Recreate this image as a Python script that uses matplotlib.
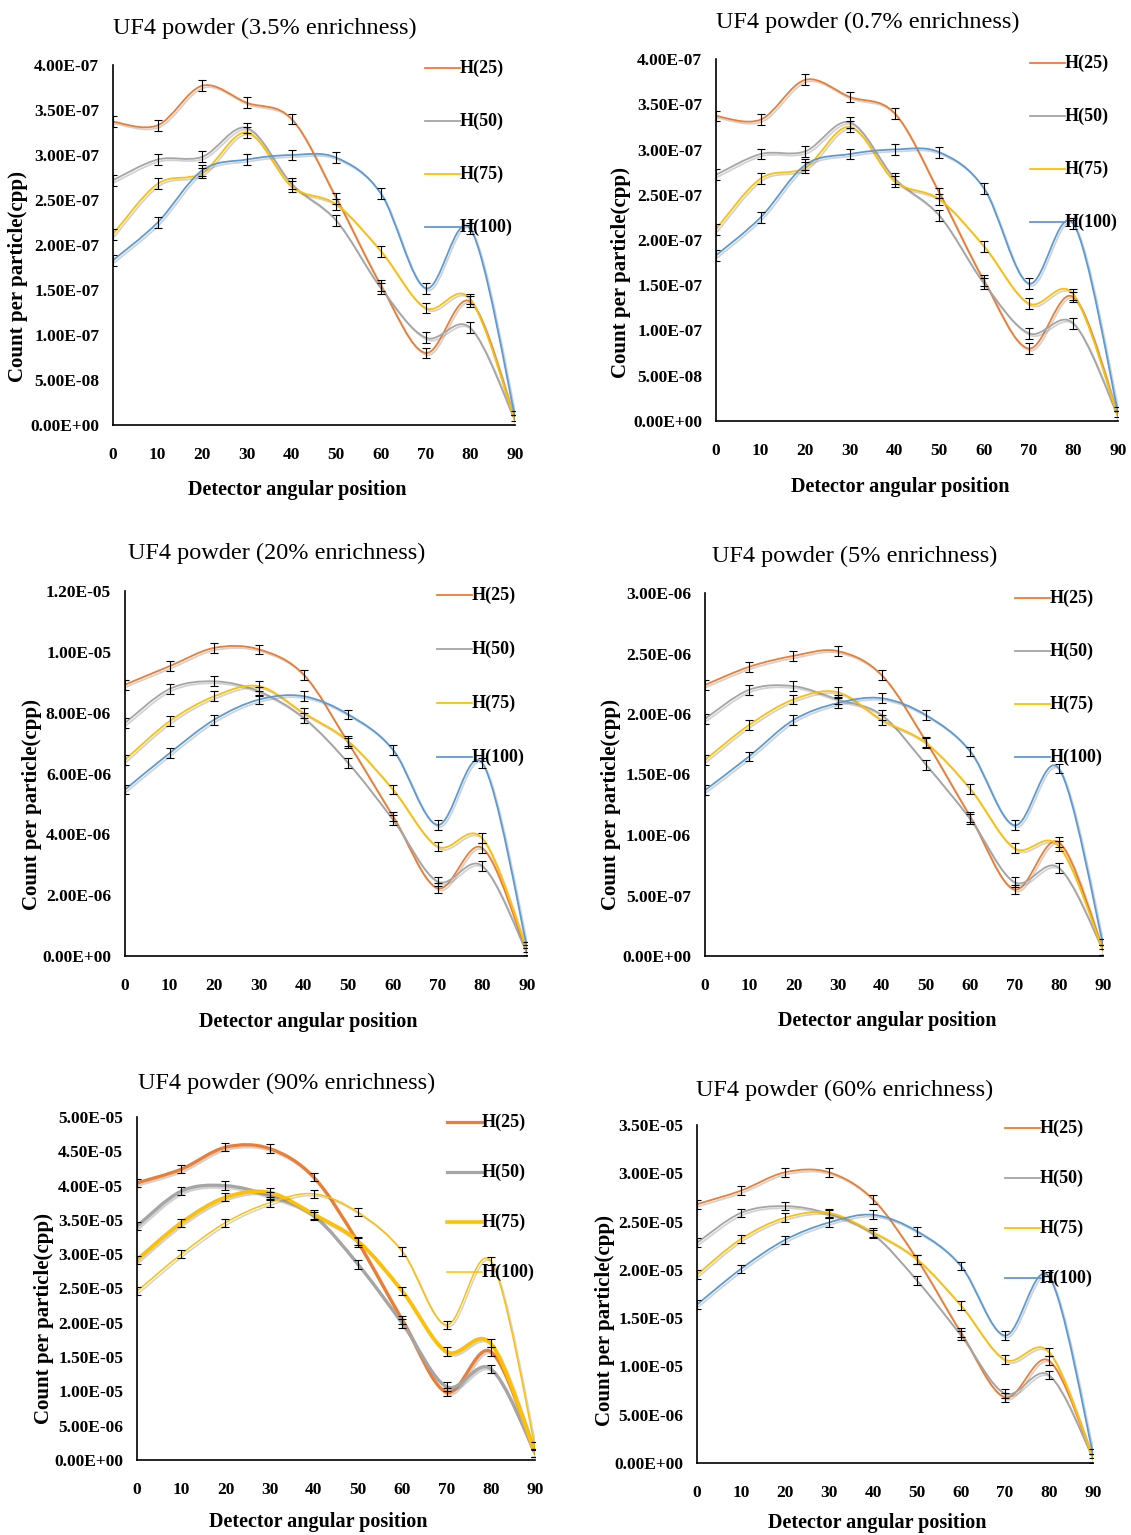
import numpy as np
import matplotlib.pyplot as plt
import matplotlib.patheffects as pe
from matplotlib.path import Path
from matplotlib.patches import PathPatch
from matplotlib.ticker import FuncFormatter, MultipleLocator

plt.rcParams['font.family'] = ['Liberation Serif', 'DejaVu Serif']

angles = [0, 10, 20, 30, 40, 50, 60, 70, 80, 90]
labels = ['H(25)', 'H(50)', 'H(75)', 'H(100)']

# UF4 powder, 3.5% enrichment
e35_h25 = [3.37e-7, 3.33e-7, 3.77e-7, 3.58e-7, 3.40e-7, 2.52e-7, 1.55e-7, 0.80e-7, 1.37e-7, 0.05e-7]
e35_h50 = [2.72e-7, 2.95e-7, 2.98e-7, 3.30e-7, 2.68e-7, 2.27e-7, 1.52e-7, 0.97e-7, 1.08e-7, 0.05e-7]
e35_h75 = [2.12e-7, 2.68e-7, 2.80e-7, 3.25e-7, 2.65e-7, 2.45e-7, 1.93e-7, 1.30e-7, 1.40e-7, 0.05e-7]
e35_h100 = [1.83e-7, 2.25e-7, 2.83e-7, 2.95e-7, 3.00e-7, 2.97e-7, 2.57e-7, 1.52e-7, 2.18e-7, 0.10e-7]

# 0.7% enrichment
e07_h25 = [3.37e-7, 3.33e-7, 3.77e-7, 3.58e-7, 3.40e-7, 2.52e-7, 1.55e-7, 0.80e-7, 1.37e-7, 0.05e-7]
e07_h50 = [2.72e-7, 2.95e-7, 2.98e-7, 3.30e-7, 2.68e-7, 2.27e-7, 1.52e-7, 0.97e-7, 1.08e-7, 0.05e-7]
e07_h75 = [2.12e-7, 2.68e-7, 2.80e-7, 3.25e-7, 2.65e-7, 2.45e-7, 1.93e-7, 1.30e-7, 1.40e-7, 0.05e-7]
e07_h100 = [1.83e-7, 2.25e-7, 2.83e-7, 2.95e-7, 3.00e-7, 2.97e-7, 2.57e-7, 1.52e-7, 2.18e-7, 0.10e-7]

# 20% enrichment
e20_h25 = [8.92e-6, 9.53e-6, 10.13e-6, 10.08e-6, 9.25e-6, 7.00e-6, 4.59e-6, 2.23e-6, 3.55e-6, 0.10e-6]
e20_h50 = [7.66e-6, 8.78e-6, 9.03e-6, 8.70e-6, 7.83e-6, 6.34e-6, 4.48e-6, 2.45e-6, 2.96e-6, 0.10e-6]
e20_h75 = [6.45e-6, 7.72e-6, 8.54e-6, 8.87e-6, 7.99e-6, 7.06e-6, 5.47e-6, 3.60e-6, 3.87e-6, 0.20e-6]
e20_h100 = [5.47e-6, 6.67e-6, 7.77e-6, 8.43e-6, 8.54e-6, 7.94e-6, 6.78e-6, 4.31e-6, 6.34e-6, 0.30e-6]

# 5% enrichment
e5_h25 = [2.24e-6, 2.39e-6, 2.48e-6, 2.52e-6, 2.32e-6, 1.77e-6, 1.15e-6, 0.55e-6, 0.94e-6, 0.05e-6]
e5_h50 = [1.96e-6, 2.20e-6, 2.23e-6, 2.12e-6, 1.99e-6, 1.58e-6, 1.13e-6, 0.61e-6, 0.73e-6, 0.05e-6]
e5_h75 = [1.62e-6, 1.91e-6, 2.12e-6, 2.18e-6, 1.95e-6, 1.76e-6, 1.38e-6, 0.89e-6, 0.91e-6, 0.05e-6]
e5_h100 = [1.37e-6, 1.65e-6, 1.95e-6, 2.09e-6, 2.13e-6, 1.99e-6, 1.69e-6, 1.08e-6, 1.55e-6, 0.10e-6]

# 90% enrichment
e90_h25 = [4.04e-5, 4.24e-5, 4.56e-5, 4.54e-5, 4.12e-5, 3.17e-5, 2.04e-5, 0.99e-5, 1.58e-5, 0.10e-5]
e90_h50 = [3.41e-5, 3.92e-5, 4.00e-5, 3.85e-5, 3.56e-5, 2.85e-5, 1.99e-5, 1.07e-5, 1.33e-5, 0.10e-5]
e90_h75 = [2.92e-5, 3.46e-5, 3.83e-5, 3.90e-5, 3.58e-5, 3.19e-5, 2.46e-5, 1.58e-5, 1.70e-5, 0.10e-5]
e90_h100 = [2.46e-5, 3.00e-5, 3.46e-5, 3.75e-5, 3.88e-5, 3.61e-5, 3.04e-5, 1.97e-5, 2.90e-5, 0.20e-5]

# 60% enrichment
e60_h25 = [2.68e-5, 2.82e-5, 3.01e-5, 3.01e-5, 2.73e-5, 2.11e-5, 1.35e-5, 0.68e-5, 1.06e-5, 0.05e-5]
e60_h50 = [2.28e-5, 2.59e-5, 2.66e-5, 2.58e-5, 2.37e-5, 1.89e-5, 1.32e-5, 0.72e-5, 0.91e-5, 0.05e-5]
e60_h75 = [1.95e-5, 2.32e-5, 2.54e-5, 2.59e-5, 2.39e-5, 2.11e-5, 1.63e-5, 1.07e-5, 1.15e-5, 0.05e-5]
e60_h100 = [1.64e-5, 2.01e-5, 2.31e-5, 2.49e-5, 2.57e-5, 2.40e-5, 2.04e-5, 1.32e-5, 1.93e-5, 0.10e-5]

ORANGE, GRAY, YELLOW, BLUE = '#ED7D31', '#A5A5A5', '#FFC000', '#5B9BD5'

W, H = 1131, 1535
fig = plt.figure(figsize=(W / 100, H / 100), dpi=100)

panels = [
    dict(title='UF4 powder (3.5% enrichness)', box=(113, 65, 515, 425), ymax=4e-7, step=0.5e-7,
         series=[e35_h25, e35_h50, e35_h75, e35_h100], err=6e-9,
         colors=[ORANGE, GRAY, YELLOW, BLUE], widths=[1.3, 1.3, 1.3, 1.3],
         title_xy=(265, 28), ylab_x=18, ylab_y=277, xlab_xy=(297, 490),
         leg_x=425, leg_y=68, leg_dy=53),
    dict(title='UF4 powder (0.7% enrichness)', box=(716, 59, 1118, 421), ymax=4e-7, step=0.5e-7,
         series=[e07_h25, e07_h50, e07_h75, e07_h100], err=6e-9,
         colors=[ORANGE, GRAY, YELLOW, BLUE], widths=[1.3, 1.3, 1.3, 1.3],
         title_xy=(868, 22), ylab_x=621, ylab_y=272, xlab_xy=(900, 487),
         leg_x=1030, leg_y=63, leg_dy=53),
    dict(title='UF4 powder (20% enrichness)', box=(125, 591, 527, 956), ymax=1.2e-5, step=2e-6,
         series=[e20_h25, e20_h50, e20_h75, e20_h100], err=1.6e-7,
         colors=[ORANGE, GRAY, YELLOW, BLUE], widths=[1.3, 1.3, 1.3, 1.3],
         title_xy=(277, 553), ylab_x=32, ylab_y=804, xlab_xy=(308, 1022),
         leg_x=437, leg_y=595, leg_dy=54),
    dict(title='UF4 powder (5% enrichness)', box=(705, 593, 1103, 956), ymax=3e-6, step=0.5e-6,
         series=[e5_h25, e5_h50, e5_h75, e5_h100], err=4e-8,
         colors=[ORANGE, GRAY, YELLOW, BLUE], widths=[1.3, 1.3, 1.3, 1.3],
         title_xy=(855, 556), ylab_x=611, ylab_y=804, xlab_xy=(887, 1021),
         leg_x=1015, leg_y=598, leg_dy=53),
    dict(title='UF4 powder (90% enrichness)', box=(137, 1117, 535, 1460), ymax=5e-5, step=5e-6,
         series=[e90_h25, e90_h50, e90_h75, e90_h100], err=6e-7,
         colors=[ORANGE, GRAY, YELLOW, YELLOW], widths=[2.3, 2.3, 2.6, 1.1],
         title_xy=(287, 1083), ylab_x=44, ylab_y=1319, xlab_xy=(318, 1522),
         leg_x=447, leg_y=1122, leg_dy=50),
    dict(title='UF4 powder (60% enrichness)', box=(697, 1125, 1093, 1463), ymax=3.5e-5, step=5e-6,
         series=[e60_h25, e60_h50, e60_h75, e60_h100], err=4.5e-7,
         colors=[ORANGE, GRAY, YELLOW, BLUE], widths=[1.3, 1.3, 1.3, 1.3],
         title_xy=(845, 1090), ylab_x=605, ylab_y=1321, xlab_xy=(877, 1523),
         leg_x=1005, leg_y=1128, leg_dy=50),
]


def smooth_path(x, y):
    # Catmull-Rom style cubic Bezier through every point (spreadsheet "smoothed line")
    x = np.asarray(x, float)
    y = np.asarray(y, float)
    n = len(x)
    verts = [(x[0], y[0])]
    codes = [Path.MOVETO]
    for i in range(n - 1):
        i0 = max(i - 1, 0)
        i3 = min(i + 2, n - 1)
        c1 = (x[i] + (x[i + 1] - x[i0]) / 6, y[i] + (y[i + 1] - y[i0]) / 6)
        c2 = (x[i + 1] - (x[i3] - x[i]) / 6, y[i + 1] - (y[i3] - y[i]) / 6)
        verts += [c1, c2, (x[i + 1], y[i + 1])]
        codes += [Path.CURVE4] * 3
    return Path(verts, codes)


shadow = [pe.SimpleLineShadow(offset=(1.2, -1.5), shadow_color='#808080', alpha=0.35), pe.Normal()]
sci = FuncFormatter(lambda v, pos: f'{v:.2E}')

for p in panels:
    l, t, r, b = p['box']
    ax = fig.add_axes([l / W, 1 - b / H, (r - l) / W, (b - t) / H])
    hpx = b - t
    wpx = r - l

    for vals, col, lw in zip(p['series'], p['colors'], p['widths']):
        ax.add_patch(PathPatch(smooth_path(angles, vals), fill=False, edgecolor=col, lw=lw,
                               capstyle='round', joinstyle='round', path_effects=shadow, zorder=2))
        ax.errorbar(angles, vals, yerr=p['err'], fmt='none', ecolor='black', elinewidth=0.8,
                    capsize=3, capthick=0.8, zorder=3)

    ax.set_xlim(0, 90)
    ax.set_ylim(0, p['ymax'])
    ax.set_xticks(angles)
    ax.yaxis.set_major_locator(MultipleLocator(p['step']))
    ax.yaxis.set_major_formatter(sci)
    ax.tick_params(length=0, labelsize=12.5)
    ax.tick_params(axis='x', pad=16)
    ax.tick_params(axis='y', pad=10)
    for lab in ax.get_xticklabels() + ax.get_yticklabels():
        lab.set_fontweight('bold')
    for s in ('top', 'right'):
        ax.spines[s].set_visible(False)
    for s in ('left', 'bottom'):
        ax.spines[s].set_linewidth(1.2)

    ax.set_ylabel('Count per particle(cpp)', fontsize=15, fontweight='bold', va='center')
    ax.yaxis.set_label_coords((p['ylab_x'] - l) / wpx, (b - p['ylab_y']) / hpx)
    ax.set_xlabel('Detector angular position', fontsize=14.5, fontweight='bold', va='center')
    ax.xaxis.set_label_coords((p['xlab_xy'][0] - l) / wpx, (b - p['xlab_xy'][1]) / hpx)

    fig.text(p['title_xy'][0] / W, 1 - p['title_xy'][1] / H, p['title'], fontsize=17.5,
             ha='center', va='center')

    # legend: short line sample followed by the series name
    for k, (lab, col, lw) in enumerate(zip(labels, p['colors'], p['widths'])):
        yy = (b - (p['leg_y'] + k * p['leg_dy'])) / hpx
        x0 = (p['leg_x'] - l) / wpx
        x1 = x0 + 35 / wpx
        ax.plot([x0, x1], [yy, yy], color=col, lw=lw, transform=ax.transAxes, clip_on=False)
        ax.text(x1, yy, lab, transform=ax.transAxes, fontsize=13, fontweight='bold',
                ha='left', va='center')

fig.savefig('out.png', dpi=100)
